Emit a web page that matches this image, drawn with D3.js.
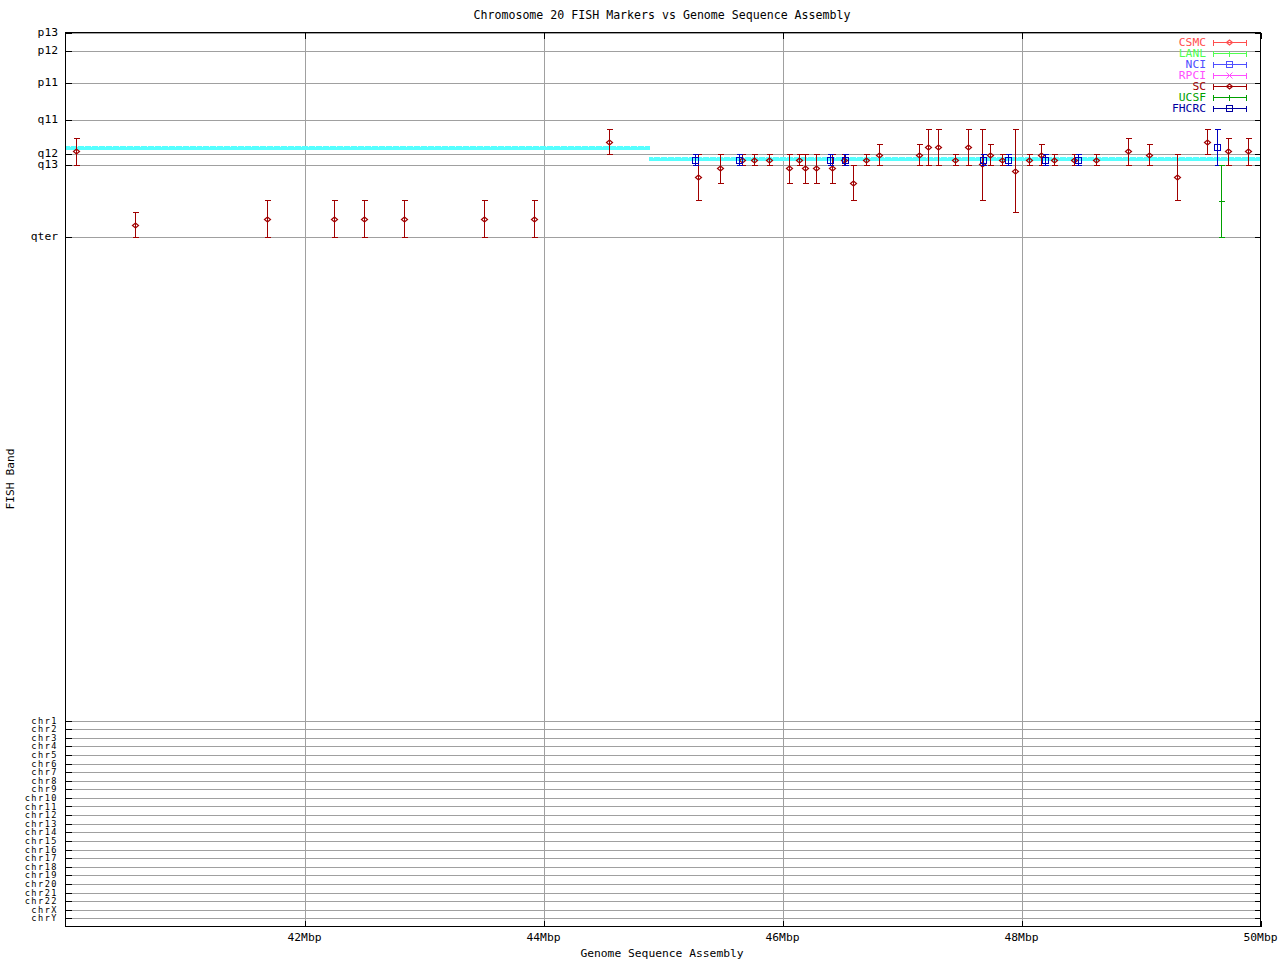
<!DOCTYPE html>
<html><head><meta charset="utf-8">
<script src="https://cdn.jsdelivr.net/npm/d3@7"></script>
<style>
body{margin:0;background:#fff;}
svg{display:block;font-family:"DejaVu Sans Mono",monospace;}
</style></head>
<body>
<script>
// ---- data ----
const bandLabels = ["p13","p12","p11","q11","q12","q13","qter"];
const bandPos    = [0, 18, 50, 87, 121, 132, 204];
const chrLabels  = ["chr1","chr2","chr3","chr4","chr5","chr6","chr7","chr8","chr9","chr10","chr11","chr12","chr13","chr14","chr15","chr16","chr17","chr18","chr19","chr20","chr21","chr22","chrX","chrY"];
const chrPos     = [688,696.6,705.2,713.8,722.4,731,739.6,748.2,756.8,765.4,774,782.6,791.2,799.8,808.4,817,825.6,834.2,842.8,851.4,860,868.6,877.2,885.8];
const xTicks     = [42, 44, 46, 48, 50];
const xTickLabels= ["42Mbp","44Mbp","46Mbp","48Mbp","50Mbp"];

// assembly (cyan) segments: start Mbp, end Mbp, band
const asmStart = [40.0, 44.88];
const asmEnd   = [44.89, 50.0];
const asmBand  = [115.5, 126.8];

// SC markers
const scMbp = [40.086,40.580,41.685,42.245,42.496,42.831,43.500,43.918,44.550,45.291,45.475,45.657,45.760,45.885,46.056,46.136,46.186,46.278,46.412,46.513,46.588,46.697,46.805,47.140,47.215,47.299,47.440,47.550,47.670,47.733,47.834,47.943,48.061,48.161,48.270,48.437,48.621,48.889,49.065,49.299,49.550,49.726,49.893];
const scMid = [118,192,186,186,186,186,186,186,109,144,135,127,127,127,135,127,135,135,135,127,150,127,122,122,114,114,127,114,131.5,122,127,138,127,122,127,127,127,118,122,144,109,118,118];
const scLo  = [105,179,167,167,167,167,167,167,96,121,121,121,121,121,121,121,121,121,121,121,132,121,111,111,96,96,121,96,96,111,121,96,121,111,121,121,121,105,111,121,96,105,105];
const scHi  = [132,204,204,204,204,204,204,204,121,167,150,132,132,132,150,132,150,150,150,132,167,132,132,132,132,132,132,132,167,132,132,179,132,132,132,132,132,132,132,167,121,132,132];

// FHCRC markers
const fhMbp = [45.266,45.640,46.396,46.527,47.676,47.885,48.195,48.471,49.634];
const fhMid = [127,127,127,127,127,127,127,127,114];
const fhLo  = [121,121,121,121,121,121,121,121,96];
const fhHi  = [132,132,132,132,132,132,132,132,132];

// UCSF markers
const ucMbp = [49.668];
const ucMid = [168];
const ucLo  = [132];
const ucHi  = [204];

const legendNames  = ["CSMC","LANL","NCI","RPCI","SC","UCSF","FHCRC"];
const legendColors = ["#ff4f4f","#4fff4f","#4f4fff","#ff4fff","#a00000","#00a000","#0000a0"];
const legendMarks  = ["diamond","plus","square","cross","diamond","plus","square"];

// ---- drawing ----
const W=1280,H=960;
const svg=d3.select("body").append("svg").attr("width",W).attr("height",H);
const x=d3.scaleLinear().domain([40,50]).range([65.5,1260.5]);
const y=d3.scaleLinear().domain([0,894]).range([32.5,926.5]);
const L=65.5,R=1260.5,T=32.5,B=926.5;
const grid="#a0a0a0";
const g=svg.append("g").attr("shape-rendering","crispEdges");

// horizontal grid
const allYPos=bandPos.concat(chrPos);
g.selectAll("line.hg").data(allYPos).enter().append("line")
  .attr("x1",L).attr("x2",R).attr("y1",d=>Math.round(y(d))+0.5).attr("y2",d=>Math.round(y(d))+0.5)
  .attr("stroke",grid).attr("stroke-width",1);
// vertical grid
g.selectAll("line.vg").data(xTicks.slice(0,-1)).enter().append("line")
  .attr("y1",T).attr("y2",B).attr("x1",d=>Math.round(x(d))+0.5).attr("x2",d=>Math.round(x(d))+0.5)
  .attr("stroke",grid);

// cyan assembly
const asm=asmStart.map((s,i)=>({s,e:asmEnd[i],b:asmBand[i]}));
g.selectAll("line.asm").data(asm).enter().append("line")
  .attr("x1",d=>x(d.s)).attr("x2",d=>x(d.e)).attr("y1",d=>y(d.b)).attr("y2",d=>y(d.b))
  .attr("stroke","#55ffff").attr("stroke-width",4);
g.selectAll("line.asmd").data(asm).enter().append("line")
  .attr("x1",d=>x(d.s)+4).attr("x2",d=>x(d.e)).attr("y1",d=>Math.round(y(d.b))-1.5).attr("y2",d=>Math.round(y(d.b))-1.5)
  .attr("stroke","#ffffff").attr("stroke-width",1).attr("stroke-dasharray","1,6").attr("opacity",0.8);

// axes ticks (left/right, bottom/top)
allYPos.forEach(p=>{
  const yy=Math.round(y(p))+0.5;
  g.append("line").attr("x1",L).attr("x2",L+6).attr("y1",yy).attr("y2",yy).attr("stroke","#000");
  g.append("line").attr("x1",R-6).attr("x2",R).attr("y1",yy).attr("y2",yy).attr("stroke","#000");
});
xTicks.forEach(t=>{
  const xx=Math.round(x(t))+0.5;
  g.append("line").attr("x1",xx).attr("x2",xx).attr("y1",B).attr("y2",B-6).attr("stroke","#000");
  g.append("line").attr("x1",xx).attr("x2",xx).attr("y1",T).attr("y2",T+6).attr("stroke","#000");
});

// markers
function marker(sel,type,cx,cy,color){
  if(type==="diamond"){
    sel.append("path").attr("d",`M${cx-3},${cy}L${cx},${cy-2.5}L${cx+3},${cy}L${cx},${cy+2.5}Z`)
      .attr("fill","none").attr("stroke",color).attr("stroke-width",1.2).attr("shape-rendering","auto");
  } else if(type==="square"){
    sel.append("rect").attr("x",cx-3).attr("y",cy-3).attr("width",6).attr("height",6)
      .attr("fill","none").attr("stroke",color).attr("stroke-width",1);
  } else if(type==="plus"){
    sel.append("line").attr("x1",cx-3).attr("x2",cx+3).attr("y1",cy).attr("y2",cy).attr("stroke",color);
    sel.append("line").attr("x1",cx).attr("x2",cx).attr("y1",cy-3).attr("y2",cy+3).attr("stroke",color);
  } else if(type==="cross"){
    sel.append("path").attr("d",`M${cx-3},${cy-3}L${cx+3},${cy+3}M${cx-3},${cy+3}L${cx+3},${cy-3}`)
      .attr("stroke",color).attr("shape-rendering","auto");
  }
}
function series(mbp,mid,lo,hi,color,type){
  const sg=g.append("g");
  mbp.forEach((m,i)=>{
    const cx=Math.round(x(m))+0.5;
    const y1=Math.round(y(lo[i]))+0.5, y2=Math.round(y(hi[i]))+0.5, ym=Math.round(y(mid[i]))+0.5;
    sg.append("line").attr("x1",cx).attr("x2",cx).attr("y1",y1).attr("y2",y2).attr("stroke",color).attr("stroke-width",1);
    sg.append("line").attr("x1",cx-3).attr("x2",cx+3).attr("y1",y1).attr("y2",y1).attr("stroke",color).attr("stroke-width",1);
    sg.append("line").attr("x1",cx-3).attr("x2",cx+3).attr("y1",y2).attr("y2",y2).attr("stroke",color).attr("stroke-width",1);
    marker(sg,type,cx,ym,color);
  });
}
series(scMbp,scMid,scLo,scHi,"#a00000","diamond");
series(fhMbp,fhMid,fhLo,fhHi,"#0000c0","square");
series(ucMbp,ucMid,ucLo,ucHi,"#00a000","plus");

// frame
g.append("rect").attr("x",L).attr("y",T).attr("width",R-L).attr("height",B-T)
  .attr("fill","none").attr("stroke","#000");

// labels
const fs=11.3;
const txt=svg.append("g").attr("font-size",fs).attr("fill","#000");
bandLabels.forEach((l,i)=>{
  txt.append("text").attr("x",58).attr("y",y(bandPos[i])).attr("dy","0.35em").attr("text-anchor","end").text(l);
});
chrLabels.forEach((l,i)=>{
  txt.append("text").attr("x",58).attr("y",y(chrPos[i])).attr("dy","0.35em").attr("text-anchor","end")
    .attr("font-size",8.6).attr("letter-spacing",1.5).text(l);
});
xTicks.forEach((t,i)=>{
  txt.append("text").attr("x",x(t)).attr("y",941).attr("text-anchor","middle").text(xTickLabels[i]);
});
txt.append("text").attr("x",662).attr("y",19).attr("text-anchor","middle").attr("font-size",11.6)
  .text("Chromosome 20 FISH Markers vs Genome Sequence Assembly");
txt.append("text").attr("x",662).attr("y",957).attr("text-anchor","middle").text("Genome Sequence Assembly");
txt.append("text").attr("transform","translate(14,479) rotate(-90)").attr("text-anchor","middle").text("FISH Band");

// legend
const lg=svg.append("g").attr("shape-rendering","crispEdges");
legendNames.forEach((n,i)=>{
  const ly=42.5+i*11;
  const c=legendColors[i];
  lg.append("text").attr("x",1206).attr("y",ly).attr("dy","0.35em").attr("text-anchor","end")
    .attr("font-size",fs).attr("fill",c).text(n);
  lg.append("line").attr("x1",1213).attr("x2",1247).attr("y1",ly).attr("y2",ly).attr("stroke",c);
  lg.append("line").attr("x1",1213.5).attr("x2",1213.5).attr("y1",ly-3).attr("y2",ly+3).attr("stroke",c);
  lg.append("line").attr("x1",1246.5).attr("x2",1246.5).attr("y1",ly-3).attr("y2",ly+3).attr("stroke",c);
  marker(lg,legendMarks[i],1229.5,ly,c);
});
</script>
</body></html>
